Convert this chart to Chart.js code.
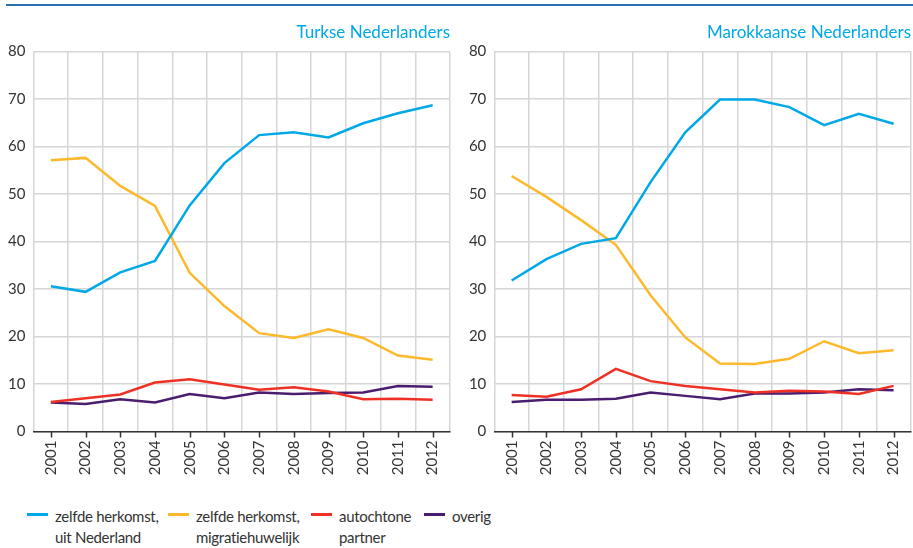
<!DOCTYPE html>
<html>
<head>
<meta charset="utf-8">
<script src="https://cdn.jsdelivr.net/npm/chart.js@4/dist/chart.umd.min.js"></script>
<style>
  body { margin: 0; background: #fff; font-family: Lato, sans-serif; }
  #wrap { position: relative; width: 913px; height: 548px; overflow: hidden; }
  #topline { position: absolute; left: 6px; top: 4px; width: 907px; height: 2px; background: #2b71b0; }
  .box { position: absolute; top: 0; height: 480px; }
  .legend-item { position: absolute; top: 506px; font-size: 15px; line-height: 21px; color: #333; letter-spacing: -0.3px; }
  .legend-line { position: absolute; top: 513px; width: 21px; height: 3px; }
</style>
</head>
<body>
<div id="wrap">
  <div id="topline"></div>
  <div class="box" style="left:0;width:456px"><canvas id="turks"></canvas></div>
  <div class="box" style="left:456px;width:457px"><canvas id="marok"></canvas></div>
  <div id="legend"></div>
</div>
<script>
// years on the x axis
const years = ['2001','2002','2003','2004','2005','2006','2007','2008','2009','2010','2011','2012'];

const seriesNames = [
    ['zelfde herkomst,', 'uit Nederland'],
    ['zelfde herkomst,', 'migratiehuwelijk'],
    ['autochtone', 'partner'],
    ['overig']
];
const seriesColors = ['#00a8e6', '#fdb92c', '#ee3124', '#4b1d6e'];

// Turkse Nederlanders (%)
const turksUitNL     = [30.6, 29.4, 33.5, 35.9, 47.6, 56.5, 62.4, 63.0, 61.9, 64.9, 67.0, 68.7];
const turksMigratie  = [57.1, 57.6, 51.7, 47.5, 33.4, 26.4, 20.7, 19.7, 21.5, 19.7, 16.0, 15.1];
const turksAutochtoon= [6.2, 7.0, 7.8, 10.3, 11.0, 9.9, 8.8, 9.3, 8.4, 6.8, 6.9, 6.7];
const turksOverig    = [6.1, 5.8, 6.8, 6.1, 7.9, 7.0, 8.2, 7.9, 8.1, 8.2, 9.6, 9.4];

// Marokkaanse Nederlanders (%)
const marokUitNL     = [31.8, 36.3, 39.5, 40.7, 52.5, 63.0, 69.9, 69.9, 68.3, 64.5, 66.9, 64.8];
const marokMigratie  = [53.8, 49.4, 44.5, 39.3, 28.7, 19.8, 14.3, 14.2, 15.3, 19.0, 16.5, 17.1];
const marokAutochtoon= [7.7, 7.3, 8.9, 13.2, 10.6, 9.6, 8.9, 8.2, 8.6, 8.4, 7.9, 9.6];
const marokOverig    = [6.2, 6.7, 6.7, 6.9, 8.2, 7.5, 6.8, 8.0, 8.0, 8.2, 8.9, 8.7];

const yTicks = [0, 10, 20, 30, 40, 50, 60, 70, 80];

// small tick marks under the x axis, centred on each year
const tickMarks = {
    id: 'tickMarks',
    afterDraw(chart) {
        const x = chart.scales.x;
        const ctx = chart.ctx;
        ctx.save();
        ctx.strokeStyle = '#333';
        ctx.lineWidth = 1.5;
        ctx.beginPath();
        years.forEach((y, i) => {
            const px = Math.round(x.getPixelForTick(i)) + 0.5;
            ctx.moveTo(px, x.top);
            ctx.lineTo(px, x.top + 6);
        });
        ctx.stroke();
        ctx.restore();
    }
};

function makeChart(id, title, values, yWidth, padRight) {
    const ctx = document.getElementById(id).getContext('2d');
    return new Chart(ctx, {
        type: 'line',
        data: {
            labels: years,
            datasets: values.map((data, i) => ({
                label: seriesNames[i].join(' '),
                data: data,
                borderColor: seriesColors[i],
                backgroundColor: seriesColors[i],
                borderWidth: 2.5,
                pointRadius: 0,
                tension: 0,
                fill: false
            }))
        },
        options: {
            responsive: true,
            maintainAspectRatio: false,
            animation: false,
            layout: { padding: { left: 0, right: padRight, top: 0, bottom: 0 } },
            plugins: {
                legend: { display: false },
                tooltip: { enabled: false },
                title: {
                    display: true,
                    text: title,
                    align: 'end',
                    color: '#00a8e6',
                    font: { family: 'Lato', size: 17, weight: 'normal', lineHeight: 1.2 },
                    padding: { top: 22.5, bottom: 8.6 }
                }
            },
            scales: {
                x: {
                    offset: true,
                    grid: { offset: true, color: '#d6d6d6', lineWidth: 1.5, drawTicks: false },
                    border: { display: true, color: '#333', width: 1.5 },
                    ticks: {
                        minRotation: 90, maxRotation: 90, padding: 9,
                        color: '#333', font: { family: 'Lato', size: 15 }
                    },
                    afterFit(scale) {
                        scale.height = 48.5;
                        scale.paddingLeft = 0;
                        scale.paddingRight = 0;
                    }
                },
                y: {
                    min: 0, max: 80,
                    afterBuildTicks(scale) { scale.ticks = yTicks.map(v => ({ value: v })); },
                    grid: { color: '#d6d6d6', lineWidth: 1.5, drawTicks: false },
                    border: { display: false },
                    ticks: { padding: 8, color: '#333', font: { family: 'Lato', size: 15 } },
                    afterFit(scale) {
                        scale.width = yWidth;
                        scale.paddingTop = 0;
                        scale.paddingBottom = 0;
                    }
                }
            }
        },
        plugins: [tickMarks]
    });
}

makeChart('turks', 'Turkse Nederlanders',
    [turksUitNL, turksMigratie, turksAutochtoon, turksOverig], 33.5, 6);
makeChart('marok', 'Marokkaanse Nederlanders',
    [marokUitNL, marokMigratie, marokAutochtoon, marokOverig], 38.3, 2);

// legend below the charts
const legendLeft = [27, 168, 311, 424];
const legend = document.getElementById('legend');
seriesNames.forEach((lines, i) => {
    const line = document.createElement('div');
    line.className = 'legend-line';
    line.style.left = legendLeft[i] + 'px';
    line.style.background = seriesColors[i];
    legend.appendChild(line);
    const txt = document.createElement('div');
    txt.className = 'legend-item';
    txt.style.left = (legendLeft[i] + 28) + 'px';
    txt.innerHTML = lines.join('<br>');
    legend.appendChild(txt);
});
</script>
</body>
</html>
